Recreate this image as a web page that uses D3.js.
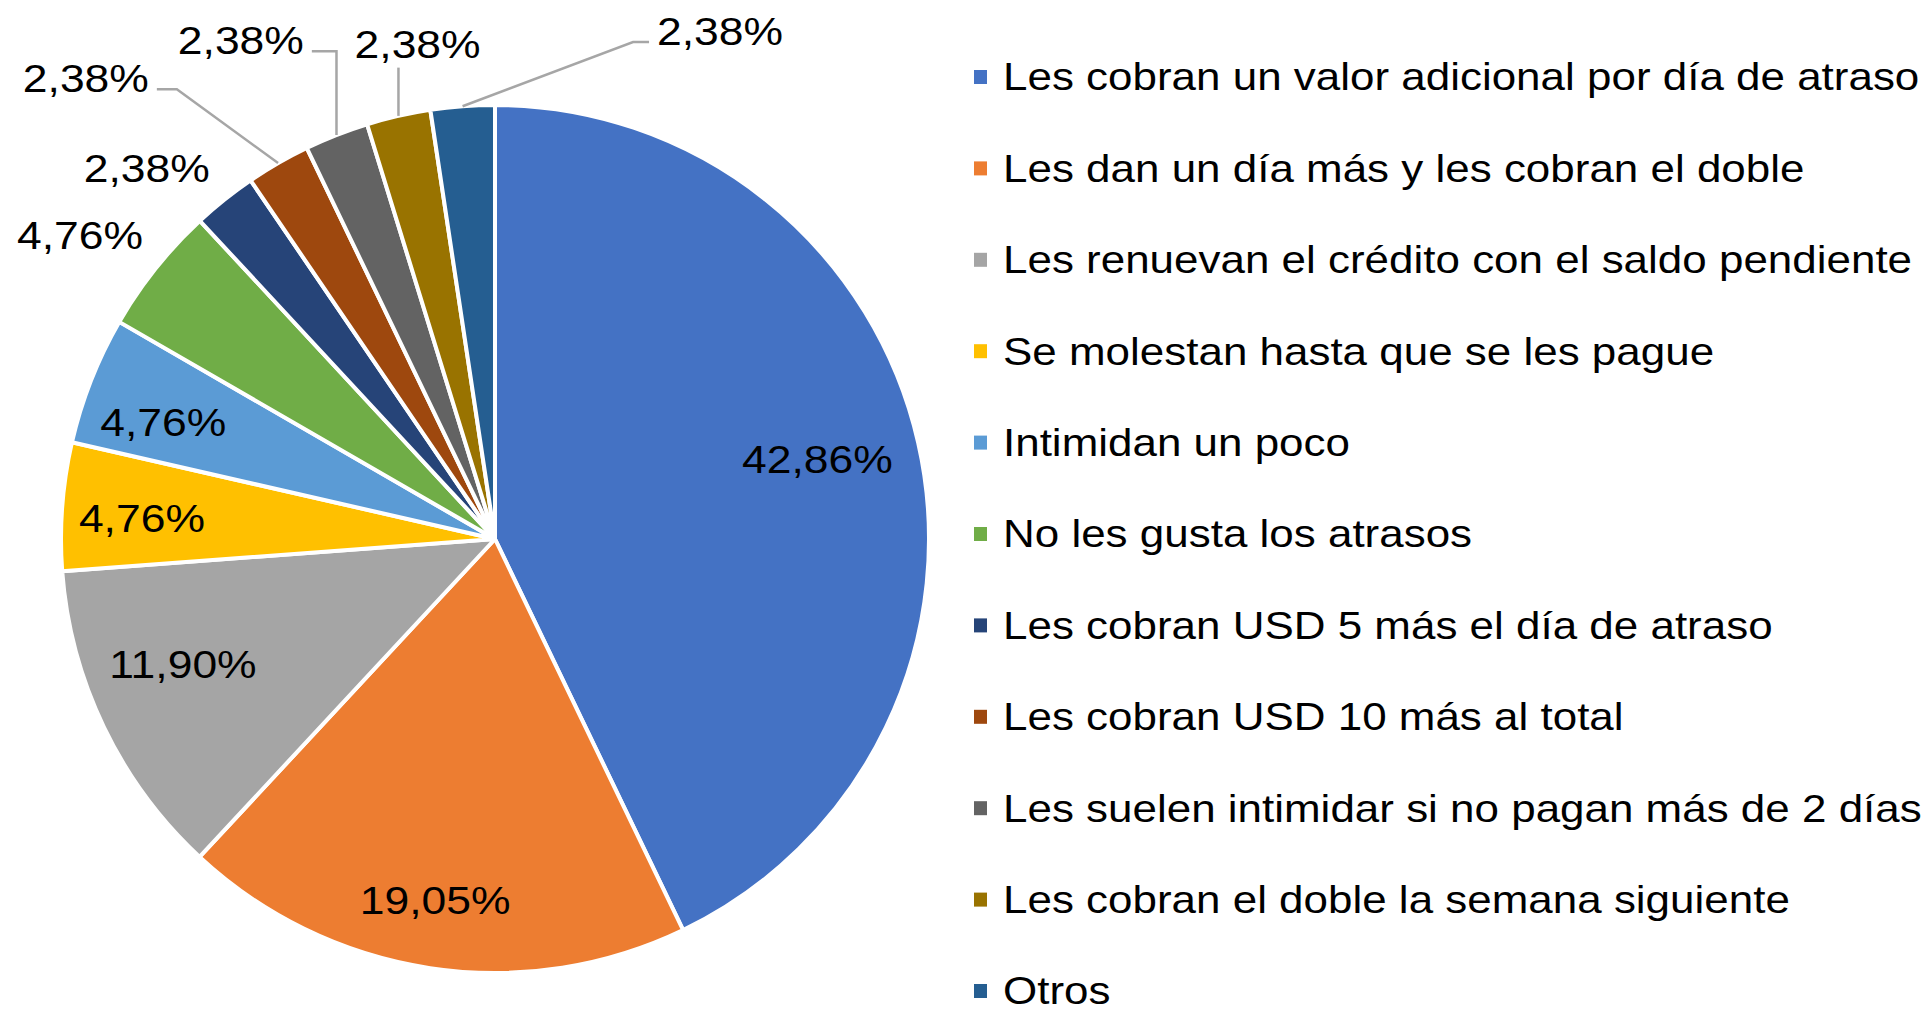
<!DOCTYPE html>
<html>
<head>
<meta charset="utf-8">
<script src="https://cdn.jsdelivr.net/npm/d3@7"></script>
<style>
  body { margin: 0; background: #fff; }
  text { font-family: Arial, "Liberation Sans", sans-serif; fill: #000; }
</style>
</head>
<body>
<div id="chart"></div>
<script>
// data
var categories = [
  "Les cobran un valor adicional por día de atraso",
  "Les dan un día más y les cobran el doble",
  "Les renuevan el crédito con el saldo pendiente",
  "Se molestan hasta que se les pague",
  "Intimidan un poco",
  "No les gusta los atrasos",
  "Les cobran USD 5 más el día de atraso",
  "Les cobran USD 10 más al total",
  "Les suelen intimidar si no pagan más de 2 días",
  "Les cobran el doble la semana siguiente",
  "Otros"
];
var values = [42.86, 19.05, 11.90, 4.76, 4.76, 4.76, 2.38, 2.38, 2.38, 2.38, 2.38];
var colors = ["#4472C4", "#ED7D31", "#A5A5A5", "#FFC000", "#5B9BD5", "#70AD47",
              "#264478", "#9E480E", "#636363", "#997300", "#255E91"];

// label placement: [angle in degrees from 12 o'clock, distance as share of radius]
var labelPlace = [
  [76.2, 0.765], [189.4, 0.845], [248.1, 0.775], [273.4, 0.815], [289.3, 0.81],
  [306.2, 1.185], [316.8, 1.172], [318.4, 1.42], [333.0, 1.29], [351.1, 1.153], [23.9, 1.28]
];
// leader lines: null, "left" (line leaves label on its left side), "right", "below"
var leaders = [null, null, null, null, null, null, null, "right", "right", "below", "left"];

var width = 1929, height = 1012;
var cx = 495, cy = 539, radius = 434;

var svg = d3.select("#chart").append("svg")
  .attr("width", width)
  .attr("height", height);

svg.append("rect").attr("width", width).attr("height", height).attr("fill", "#fff");

var pie = d3.pie().sort(null).value(function(d) { return d; });
var arc = d3.arc().innerRadius(0).outerRadius(radius);
var arcs = pie(values);

var g = svg.append("g").attr("transform", "translate(" + cx + "," + cy + ")");

g.selectAll("path.slice")
  .data(arcs)
  .enter().append("path")
    .attr("class", "slice")
    .attr("d", arc)
    .attr("fill", function(d, i) { return colors[i]; })
    .attr("stroke", "#fff")
    .attr("stroke-width", 4)
    .attr("stroke-linejoin", "round");

var fmt = function(v) { return d3.format(".2f")(v).replace(".", ",") + "%"; };

function polar(deg, dist) {
  var a = deg * Math.PI / 180;
  return [Math.sin(a) * dist, -Math.cos(a) * dist];
}

var labelScale = 1.17;
var labels = g.selectAll("g.lbl")
  .data(arcs)
  .enter().append("g")
    .attr("class", "lbl")
    .attr("transform", function(d, i) {
      var p = polar(labelPlace[i][0], labelPlace[i][1] * radius);
      return "translate(" + p[0] + "," + p[1] + ") scale(" + labelScale + ",1)";
    });

labels.append("text")
  .attr("text-anchor", "middle")
  .attr("dy", "0.36em")
  .style("font-size", "38px")
  .text(function(d) { return fmt(d.data); });

// leader lines
labels.each(function(d, i) {
  if (!leaders[i]) return;
  var w = this.querySelector("text").getComputedTextLength() * labelScale;
  var p = polar(labelPlace[i][0], labelPlace[i][1] * radius);
  var mid = (d.startAngle + d.endAngle) / 2 * 180 / Math.PI;
  var edge = polar(mid, radius);
  var pts;
  if (leaders[i] === "below") {
    pts = [edge, [edge[0], p[1] + 23]];
  } else {
    var side = leaders[i] === "right" ? 1 : -1;
    var y = p[1] + 11;
    var x0 = p[0] + side * (w / 2 + 8);
    var x1 = x0 + side * (leaders[i] === "right" ? 20 : 16);
    if (leaders[i] === "right" && Math.abs(edge[0] - x1) < 40) x1 = edge[0];
    pts = [[x0, y], [x1, y], edge];
  }
  g.append("path")
    .attr("d", d3.line()(pts))
    .attr("fill", "none")
    .attr("stroke", "#A6A6A6")
    .attr("stroke-width", 2.5);
});

// legend
var legendX = 974, legendY0 = 77, legendStep = 91.4, legendScale = 1.142;
var legend = svg.append("g");
var items = legend.selectAll("g.item")
  .data(categories)
  .enter().append("g")
    .attr("class", "item")
    .attr("transform", function(d, i) {
      return "translate(" + legendX + "," + (legendY0 + i * legendStep) + ")";
    });

items.append("rect")
  .attr("x", 0).attr("y", -7)
  .attr("width", 13).attr("height", 14)
  .attr("fill", function(d, i) { return colors[i]; });

items.append("text")
  .attr("transform", "translate(29,0) scale(" + legendScale + ",1)")
  .attr("dy", "0.35em")
  .style("font-size", "38.5px")
  .text(function(d) { return d; });
</script>
</body>
</html>
